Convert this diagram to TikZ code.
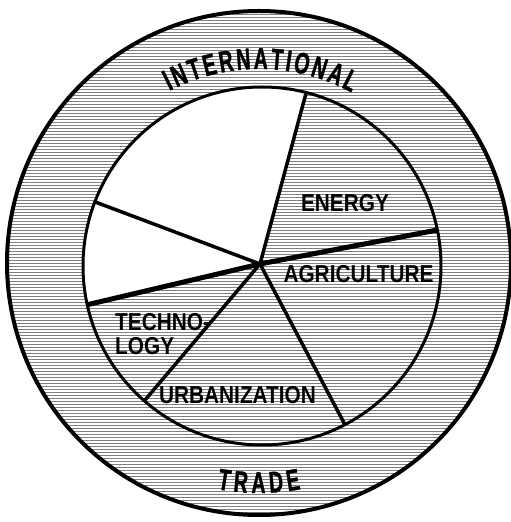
\documentclass[tikz,border=0pt]{standalone}
\usepackage{fontspec}
\newfontfamily\labelfont[FakeStretch=0.85]{Liberation Sans}
\newfontfamily\ringfont[FakeStretch=0.65, FakeBold=1.2]{Liberation Sans Bold}
\usetikzlibrary{decorations.text}

\begin{document}
\begin{tikzpicture}[x=1pt, y=1pt,
    hatchline/.style={line width=0.9pt, black!50},
    sector/.style={font=\labelfont\bfseries\fontsize{24.5}{24.5}\selectfont, inner sep=0pt},
    ringtext/.style={decorate, decoration={text along path, text align=fit to path,
        text={|\ringfont\fontsize{30}{30}\selectfont|#1}}}]
    \useasboundingbox (0,0) rectangle (511,522);

    \coordinate (outer) at (259,259);
    \coordinate (inner) at (262,256);
    \coordinate (hub) at (260,258);

    % hatching
    \begin{scope}
        \clip (outer) circle[radius=252];
        \foreach \y in {0.5,3.5,...,522}
            \draw[hatchline] (0,\y) -- (511,\y);
    \end{scope}
    \fill[white] (hub) -- ([shift={(75.7:179)}]inner) arc[start angle=75.7, end angle=192.5, radius=179] -- cycle;

    \draw[line width=4pt] (outer) circle[radius=252];
    \draw[line width=3pt] (inner) circle[radius=179];

    \draw[line width=5pt] ([shift={(192.5:179)}]inner) -- (hub) -- ([shift={(11.6:179)}]inner);
    \draw[line width=3.5pt] (hub) -- ([shift={(75.7:179)}]inner);
    \draw[line width=3.5pt] (hub) -- ([shift={(159:179)}]inner);
    \draw[line width=3.5pt] (hub) -- ([shift={(228.9:179)}]inner);
    \draw[line width=3.5pt] (hub) -- ([shift={(297.6:179)}]inner);

    \path[ringtext=INTERNATIONAL] ([shift={(117.5:194)}]outer) arc[start angle=117.5, end angle=61.5, radius=194];
    \path[ringtext=TRADE] ([shift={(259.5:230)}]outer) arc[start angle=259.5, end angle=280.5, radius=230];

    \node[sector] (energy) at (345,318.5) {ENERGY};
    \node[sector] (agriculture) at (358.5,248) {AGRICULTURE};
    \node[sector, align=left, anchor=west] (technology) at (115,188) {TECHNO-\\LOGY};
    \node[sector] (urbanization) at (237.5,127) {URBANIZATION};
\end{tikzpicture}
\end{document}
